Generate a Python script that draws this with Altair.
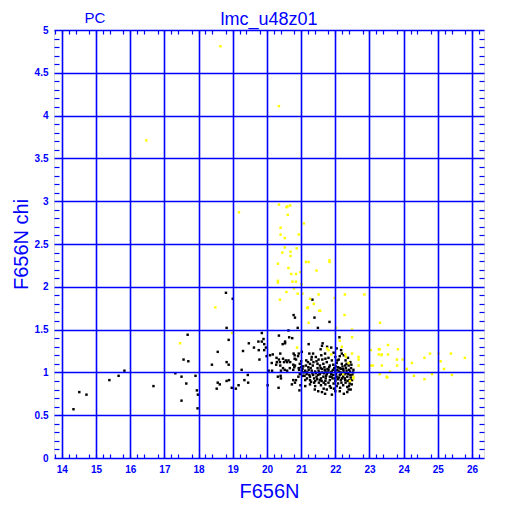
import altair as alt
import pandas as pd

BLUE = "#0000ff"

# ---- data ----
black_x = [18.80, 19.00, 18.82, 17.68, 18.88, 19.85,
           21.33, 20.78, 20.82, 21.39, 21.83, 20.90, 21.49, 20.63,
           20.35, 20.65, 20.74, 19.75, 19.85, 19.90, 19.47, 19.62, 19.92, 19.97, 19.76, 19.92,
           20.46, 20.53, 19.30, 18.56, 19.99, 20.09, 20.17, 20.39, 20.78, 20.93, 19.78, 20.35,
           20.47, 20.81, 20.85, 20.14, 20.29, 20.27, 20.39, 20.50, 20.59, 20.68, 18.39, 18.82,
           18.88, 20.82, 20.47, 20.80, 20.93, 19.26, 20.05, 20.15, 20.41, 20.59, 20.94, 20.32,
           19.44, 20.77, 20.85, 18.89, 19.34, 18.56, 18.62, 18.82, 19.45, 19.17, 19.09, 18.97,
           18.53, 20.02, 20.73,
           17.56, 17.70, 15.83, 15.66, 15.39, 17.32, 17.50, 17.91, 17.64, 16.68, 17.95, 17.98,
           14.51, 14.72, 17.50, 14.34, 17.97,
           22.12, 20.53, 21.22, 21.63, 21.76, 21.88, 22.04, 22.17, 21.61, 21.57, 22.19, 20.28,
           20.38, 20.55, 20.63, 20.81, 20.91, 21.02, 21.24, 21.35, 21.31, 21.43, 21.51, 21.59,
           21.70, 22.00, 22.13, 20.77, 20.96, 21.06, 21.14, 21.26, 21.36, 21.45, 21.55, 21.65,
           21.75, 21.84, 21.94, 22.04, 22.19, 22.29, 22.39, 22.53, 22.13, 22.23, 20.67, 20.77,
           21.02, 21.12, 21.22, 21.31, 21.41, 21.51, 21.61, 21.71, 21.80, 21.90, 22.00, 22.10,
           22.33, 22.43, 20.96, 21.06, 21.16, 21.26, 21.35, 21.45, 21.55, 21.65, 21.75, 21.84,
           21.94, 22.04, 22.13, 22.23, 22.35, 22.45, 21.12, 21.26, 21.41, 21.55, 21.71, 21.84,
           22.00, 22.16, 22.29, 22.49, 21.26, 21.41, 21.71, 21.84, 22.04, 22.23, 22.35, 20.82,
           21.12, 21.61, 21.75, 21.96, 22.13, 22.39, 22.35, 20.52, 20.40, 20.41, 20.34, 20.95,
           20.98,
           21.07, 21.17, 21.21, 21.33, 21.38, 21.48, 21.50, 21.58, 21.62, 21.68, 21.72, 21.78,
           21.82, 21.88, 21.92, 21.97, 22.02, 22.07, 22.08, 22.15, 22.20, 22.21, 22.27, 22.31,
           22.38, 22.41, 22.46, 22.50, 22.42, 22.30, 22.18, 22.08, 21.95, 21.80, 21.66, 21.52,
           21.38, 21.30, 21.62, 21.90, 22.10, 22.30, 22.44, 21.15, 21.00, 22.48, 22.52, 22.25,
           22.37, 21.95, 21.80, 21.50, 21.70, 21.90, 22.25, 22.45, 21.40,
           21.04, 21.10, 21.18, 21.24, 21.28, 21.34, 21.43, 21.47, 21.53, 21.57, 21.60, 21.67,
           21.69, 21.73, 21.77, 21.86, 21.89, 21.93, 21.99, 22.01, 22.06, 22.11, 22.16, 22.19,
           22.24, 22.28, 22.32, 22.36, 22.40, 22.44, 22.47, 22.33, 22.06, 21.71, 21.48, 21.20,
           21.00, 20.92, 21.29, 21.58, 21.87, 22.14, 22.40, 21.66, 22.00]
black_y = [1.93, 1.86, 1.52, 1.44, 1.38, 1.46,
           1.85, 1.67, 1.64, 1.64, 1.59, 1.52, 1.52, 1.49,
           1.43, 1.41, 1.40, 1.36, 1.36, 1.39, 1.34, 1.29, 1.33, 1.29, 1.26, 1.26,
           1.33, 1.36, 1.25, 1.24, 1.19, 1.20, 1.21, 1.22, 1.22, 1.22, 1.15, 1.15,
           1.16, 1.16, 1.15, 1.11, 1.12, 1.09, 1.08, 1.12, 1.12, 1.12, 1.09, 1.12,
           1.09, 1.08, 1.05, 1.06, 1.05, 1.03, 1.02, 1.02, 1.02, 1.02, 1.03, 0.95,
           0.97, 0.91, 0.91, 0.91, 0.91, 0.88, 0.86, 0.90, 0.88, 0.85, 0.81, 0.82,
           0.81, 0.85, 0.86,
           1.15, 1.13, 1.02, 0.96, 0.91, 0.99, 0.95, 0.96, 0.87, 0.84, 0.79, 0.74,
           0.77, 0.74, 0.67, 0.57, 0.58,
           1.41, 1.34, 1.33, 1.34, 1.30, 1.29, 1.28, 1.26, 1.31, 1.27, 1.22, 1.17,
           1.12, 1.14, 1.14, 1.20, 1.19, 1.24, 1.22, 1.22, 1.18, 1.18, 1.15, 1.20,
           1.22, 1.18, 1.19, 1.09, 1.10, 1.07, 1.08, 1.10, 1.12, 1.13, 1.08, 1.10,
           1.12, 1.08, 1.09, 1.11, 1.10, 1.08, 1.08, 1.03, 1.05, 1.04, 1.05, 1.03,
           1.02, 1.02, 1.03, 1.02, 1.01, 1.02, 1.04, 1.02, 1.03, 1.01, 1.02, 1.01,
           1.02, 1.01, 0.98, 0.96, 0.98, 0.95, 0.97, 0.95, 0.98, 0.95, 0.98, 0.95,
           0.97, 0.95, 0.97, 0.95, 0.95, 0.94, 0.91, 0.91, 0.90, 0.91, 0.90, 0.91,
           0.90, 0.91, 0.91, 0.91, 0.86, 0.84, 0.86, 0.84, 0.84, 0.85, 0.83, 0.88,
           0.84, 0.77, 0.80, 0.81, 0.78, 0.80, 0.77, 1.03, 0.96, 0.93, 0.82, 0.79,
           0.85,
           1.00, 0.93, 1.06, 0.99, 0.93, 1.05, 0.97, 0.93, 1.00, 1.06, 0.93, 1.00,
           1.06, 0.98, 0.93, 1.05, 0.98, 0.92, 1.06, 1.00, 0.93, 1.07, 0.98, 1.05,
           0.98, 0.91, 1.05, 0.97, 0.87, 0.88, 0.88, 0.87, 0.87, 0.88, 0.88, 0.88,
           0.88, 1.15, 1.15, 1.14, 1.15, 1.14, 1.12, 1.14, 1.13, 0.86, 1.00, 1.20,
           1.17, 1.23, 1.17, 0.78, 0.75, 0.74, 0.75, 0.80, 0.80,
           1.04, 0.96, 1.00, 0.97, 1.05, 1.08, 0.99, 0.92, 1.00, 1.05, 0.90, 0.99,
           1.03, 0.96, 1.04, 1.00, 0.95, 1.03, 0.93, 1.07, 1.03, 0.94, 1.04, 0.98,
           1.02, 0.93, 0.99, 0.90, 1.03, 0.97, 1.09, 1.10, 1.14, 1.16, 1.10, 1.12,
           1.06, 0.95, 0.89, 0.85, 0.82, 0.82, 0.84, 0.81, 0.78]

yellow_x = [18.64, 20.35, 16.47, 19.18, 20.35, 20.57, 20.60, 20.68, 20.61, 21.08, 20.40, 20.40,
            20.52, 20.93, 20.52, 20.45, 20.69, 20.87, 20.69, 20.32, 21.14, 21.22, 21.83, 21.83,
            20.63, 21.45, 20.71, 20.85, 20.98, 20.32, 20.32, 20.75, 20.85, 21.01, 20.79, 20.57,
            20.90, 21.04, 21.51, 22.28, 22.85, 20.38, 21.26, 21.37, 21.98, 21.18, 21.20, 21.53,
            21.56, 22.27, 21.22, 23.31, 22.02, 22.49,
            18.49, 18.98, 17.46, 20.88,
            23.54, 23.83, 23.30, 23.36, 23.54, 23.80, 23.97, 24.24, 24.61, 24.77, 25.02, 25.38,
            25.79, 25.08, 25.18, 23.36, 23.81, 24.09, 23.60, 23.30, 24.30, 24.83, 25.41, 24.61,
            23.52,
            22.49, 21.80, 21.88, 22.49, 22.68, 22.68, 22.31, 23.27, 23.04, 23.27, 23.35, 23.04,
            23.10, 23.50, 22.43, 22.53,
            22.13, 21.76, 22.19, 22.29, 22.39, 22.68, 22.53, 22.23]
yellow_y = [4.81, 4.11, 3.71, 2.87, 2.96, 2.93, 2.94, 2.95, 2.84, 2.74, 2.69, 2.61,
            2.57, 2.61, 2.46, 2.40, 2.41, 2.45, 2.36, 2.27, 2.29, 2.29, 2.29, 2.31,
            2.22, 2.19, 2.15, 2.15, 2.17, 2.07, 2.05, 2.06, 2.06, 2.03, 1.98, 1.94,
            1.92, 1.92, 1.91, 1.91, 1.91, 1.85, 1.86, 1.80, 1.87, 1.75, 1.76, 1.72,
            1.72, 1.67, 1.58, 1.58, 1.52, 1.50,
            1.76, 1.46, 1.34, 1.29,
            1.32, 1.27, 1.27, 1.21, 1.21, 1.15, 1.15, 1.11, 1.17, 1.22, 1.22, 1.22,
            1.17, 1.13, 1.04, 1.08, 1.08, 1.04, 1.01, 0.98, 0.96, 0.98, 0.97, 0.92,
            0.94,
            1.41, 1.26, 1.21, 1.22, 1.18, 1.15, 1.18, 1.27, 1.26, 1.21, 1.20, 1.08,
            1.08, 0.95, 0.90, 0.93,
            1.37, 1.28, 1.30, 1.21, 1.11, 1.08, 0.95, 0.98]

title_text = "lmc_u48z01"
corner_text = "PC"

x_major = list(range(14, 27))
y_major = [0, 0.5, 1, 1.5, 2, 2.5, 3, 3.5, 4, 4.5, 5]
x_minor = [round(13.8 + 0.2 * i, 1) for i in range(63) if (i + 1) % 5 != 0]
y_minor = [round(0.1 * i, 1) for i in range(1, 50) if i % 5 != 0]

XDOM = [13.77, 26.35]
YDOM = [0, 5]

df_black = pd.DataFrame({"x": black_x, "y": black_y})
df_yellow = pd.DataFrame({"x": yellow_x, "y": yellow_y})


def xenc(axis):
    return alt.X("x:Q", scale=alt.Scale(domain=XDOM, nice=False, zero=False), axis=axis)


def yenc(axis):
    return alt.Y("y:Q", scale=alt.Scale(domain=YDOM, nice=False, zero=False), axis=axis)


main_x = alt.Axis(orient="bottom", values=x_major, grid=True, gridColor=BLUE, gridWidth=1.6,
                  gridOpacity=1, domain=False, ticks=False, labelColor=BLUE,
                  labelFont="Liberation Sans", labelFontWeight="bold", labelFontSize=10,
                  labelPadding=6, labelFlush=False, title="F656N", titleColor=BLUE,
                  titleFont="Liberation Sans", titleFontSize=20, titleFontWeight="normal",
                  titlePadding=7, zindex=1)
main_y = alt.Axis(orient="left", values=y_major, grid=True, gridColor=BLUE, gridWidth=1.6,
                  gridOpacity=1, domain=False, ticks=False, labelColor=BLUE,
                  labelFont="Liberation Sans", labelFontWeight="bold", labelFontSize=10,
                  labelPadding=6, labelFlush=False, labelExpr="'' + datum.value",
                  title="F656N chi", titleColor=BLUE, titleFont="Liberation Sans",
                  titleFontSize=20, titleFontWeight="normal", titlePadding=3, zindex=1)


def minor_axis(orient, values, size):
    return alt.Axis(orient=orient, values=values, offset=-size, tickSize=size, tickColor=BLUE,
                    tickWidth=1.2, labels=False, domain=False, grid=False, title=None, zindex=1)


ghost = alt.Chart(df_yellow).mark_square(opacity=0).encode(
    x=xenc(minor_axis("top", x_minor, 4)), y=yenc(minor_axis("right", y_minor, 5)))

black = alt.Chart(df_black).mark_square(size=6, color="black", opacity=1).encode(
    x=xenc(main_x), y=yenc(main_y))

yellow = alt.Chart(df_yellow).mark_square(size=6, color="#ffff00", opacity=1).encode(
    x=xenc(minor_axis("bottom", x_minor, 4)), y=yenc(minor_axis("left", y_minor, 5)))

pc = alt.Chart(pd.DataFrame({"t": [corner_text]})).mark_text(
    color=BLUE, font="Liberation Sans", fontSize=15, align="center", baseline="alphabetic"
).encode(text="t:N", x=alt.value(41), y=alt.value(-7))

ttl = alt.Chart(pd.DataFrame({"t": [title_text]})).mark_text(
    color=BLUE, font="Liberation Sans", fontSize=18, align="center", baseline="alphabetic"
).encode(text="t:N", x=alt.value(215), y=alt.value(-5))

chart = alt.layer(ghost, black, yellow, pc, ttl).resolve_scale(
    x="independent", y="independent"
).properties(
    width=430, height=428,
    autosize=alt.AutoSizeParams(type="none"),
    padding={"left": 46, "top": 22, "right": 20, "bottom": 46},
).configure_view(stroke=BLUE, strokeWidth=1.3).configure(background="white")

chart.save("out.html", embed_options={"renderer": "svg", "actions": False})
